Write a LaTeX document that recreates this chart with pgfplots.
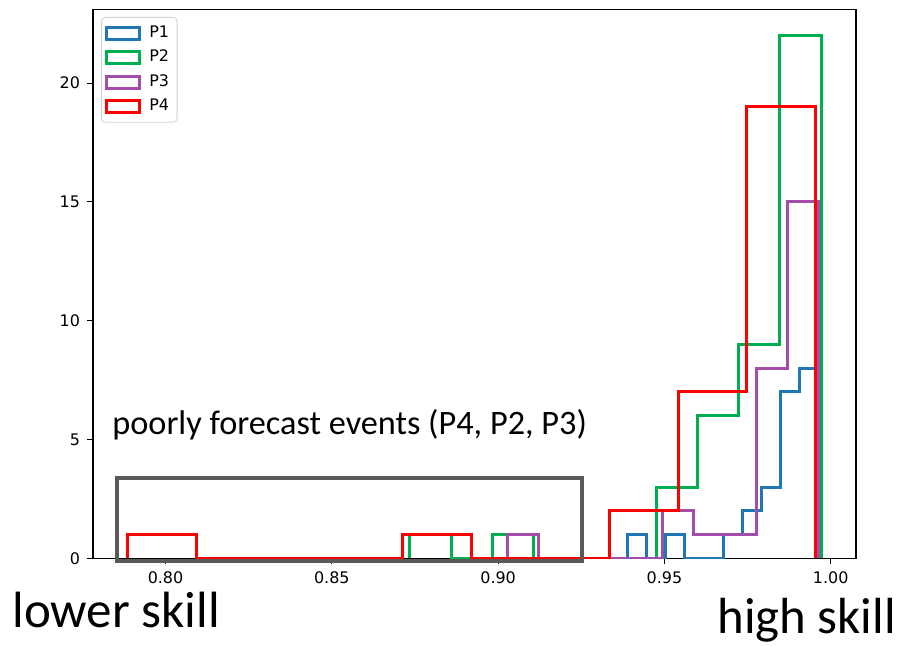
\documentclass[border=0pt]{standalone}
\usepackage{pgfplots}
\pgfplotsset{compat=1.18}
\usepackage{fontspec}
\setmainfont{DejaVu Sans}
\newfontfamily\calfont{Carlito}
\definecolor{cP1}{RGB}{31,119,180}
\definecolor{cP2}{RGB}{0,176,80}
\definecolor{cP3}{RGB}{163,76,170}
\definecolor{cP4}{RGB}{255,0,0}
\definecolor{boxgray}{RGB}{89,89,89}
\begin{document}
\begin{tikzpicture}
\path[use as bounding box] (0bp,0bp) rectangle (449bp,323bp);
\begin{axis}[
  at={(46.5bp,43.85bp)}, anchor=south west,
  scale only axis, width=381.5bp, height=274.4bp,
  xmin=0.7782, xmax=1.0076, ymin=0, ymax=23.1,
  xtick={0.80,0.85,0.90,0.95,1.00},
  xticklabels={0.80,0.85,0.90,0.95,1.00},
  ytick={0,5,10,15,20},
  yticklabels={0,5,10,15,20},
  tick pos=left, tick align=outside,
  major tick length=3bp,
  tick style={black, line width=0.5bp},
  axis line style={black, line width=0.6bp},
  tick label style={font=\fontsize{8}{9.6}\selectfont},
  /pgf/number format/assume math mode=true,
  legend cell align=left,
  legend style={at={(0,1)}, anchor=north west, xshift=4bp, yshift=-3.75bp,
    draw=black!18, rounded corners=2bp, fill=white,
    font=\fontsize{8}{9.6}\selectfont, inner xsep=2bp, inner ysep=2.2bp,
    row sep=0.9bp, column sep=2bp},
  legend image code/.code={\draw[#1, sharp corners] (0bp,-3bp) rectangle (16.5bp,3bp);},
  every axis plot/.append style={const plot, line width=1.5bp, no marks},
]
% P1
\addplot[cP1] coordinates {(0.9388,0) (0.9388,1) (0.9446,0) (0.9503,1) (0.9561,0) (0.9619,0) (0.9677,1) (0.9734,2) (0.9792,3) (0.9850,7) (0.9907,8) (0.9965,8) (0.9965,0)};
\addlegendentry{P1}
% P2
\addplot[cP2] coordinates {(0.8735,0) (0.8735,1) (0.88586,0) (0.89822,1) (0.91058,0) (0.92294,0) (0.9353,0) (0.94766,3) (0.96002,6) (0.97238,9) (0.98474,22) (0.9971,22) (0.9971,0)};
\addlegendentry{P2}
% P3
\addplot[cP3] coordinates {(0.9027,0) (0.9027,1) (0.91206,0) (0.92142,0) (0.93078,0) (0.94014,0) (0.9495,2) (0.95886,1) (0.96822,1) (0.97758,8) (0.98694,15) (0.9963,15) (0.9963,0)};
\addlegendentry{P3}
% P4
\addplot[cP4] coordinates {(0.7886,0) (0.7886,1) (0.80929,0) (0.82998,0) (0.85067,0) (0.87136,1) (0.89205,0) (0.91274,0) (0.93343,2) (0.95412,7) (0.97481,19) (0.9955,19) (0.9955,0)};
\addlegendentry{P4}
\end{axis}
\draw[boxgray, line width=2bp] (58.5bp,42.5bp) rectangle (291bp,84bp);
\node[anchor=base west, inner sep=0pt, font=\calfont\fontsize{17.2}{20}\selectfont] at (56bp,105.5bp) {poorly forecast events (P4, P2, P3)};
\node[anchor=base west, inner sep=0pt, font=\calfont\fontsize{25.6}{30}\selectfont] at (6bp,9.5bp) {lower skill};
\node[anchor=base west, inner sep=0pt, font=\calfont\fontsize{25.5}{30}\selectfont] at (358.5bp,6.5bp) {high skill};
\end{tikzpicture}
\end{document}
